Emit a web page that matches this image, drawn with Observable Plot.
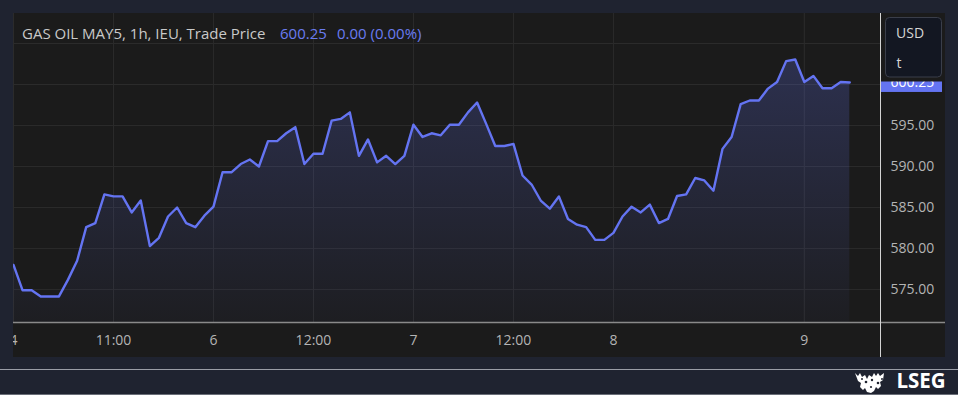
<!DOCTYPE html>
<html>
<head>
<meta charset="utf-8">
<script src="https://cdn.jsdelivr.net/npm/d3@7"></script>
<script src="https://cdn.jsdelivr.net/npm/@observablehq/plot@0.6"></script>
<style>
  html, body { margin: 0; padding: 0; background: #1f2330; }
  #wrap { position: relative; width: 958px; height: 395px; background: #1f2330; overflow: hidden; font-family: "Open Sans", sans-serif; }
  #panel { position: absolute; left: 13px; top: 13px; width: 932px; height: 344px; background: #1b1b1b; overflow: hidden; }
  #panel svg { display: block; }
  .abs { position: absolute; }
</style>
</head>
<body>
<div id="wrap">
  <div id="panel"></div>
  <svg class="abs" id="overlay" width="958" height="395" style="left:0;top:0;pointer-events:none"></svg>
</div>
<script>
// ---- data ----
const prices = [
  578.0, 574.9, 574.9, 574.15, 574.15, 574.15, 576.2, 578.5, 582.6, 583.1,
  586.6, 586.35, 586.35, 584.4, 585.85, 580.3, 581.3, 583.9, 585.0, 583.1,
  582.6, 584.0, 585.1, 589.3, 589.3, 590.3, 590.85, 590.0, 593.1, 593.1,
  594.05, 594.8, 590.3, 591.55, 591.55, 595.6, 595.8, 596.6, 591.3, 593.3,
  590.5, 591.3, 590.3, 591.3, 595.1, 593.6, 594.05, 593.8, 595.1, 595.1,
  596.6, 597.8, 595.2, 592.5, 592.5, 592.75, 588.9, 587.8, 585.85, 584.85,
  586.35, 583.6, 582.9, 582.6, 581.05, 581.05, 581.9, 583.9, 585.1, 584.4,
  585.35, 583.1, 583.6, 586.4, 586.6, 588.6, 588.3, 587.05, 592.15, 593.6,
  597.6, 598.05, 598.05, 599.5, 600.3, 602.85, 603.05, 600.3, 601.05, 599.55,
  599.55, 600.3, 600.25
];
const xTickIndex = [0, 11, 22, 33, 44, 55, 66, 87];
const xTickLabels = ["4", "11:00", "6", "12:00", "7", "12:00", "8", "9"];
const yTicks = [575, 580, 585, 590, 595, 600, 605];
const lastPrice = 600.25;
const title = "GAS OIL MAY5, 1h, IEU, Trade Price";
const change = "0.00 (0.00%)";

const data = prices.map((p, i) => ({i, p}));
const yMin = 570.85, yMax = 608.66;

const lineColor = "#6474f2";
const gridColor = "#2b2b2b";
const labelColor = "#b4b4b4";

function gradientDefs() {
  const ns = "http://www.w3.org/2000/svg";
  const g = document.createElementNS(ns, "defs");
  g.innerHTML = `<linearGradient id="areaGrad" x1="0" y1="0" x2="0" y2="1">
      <stop offset="0" stop-color="#6474f2" stop-opacity="0.24"/>
      <stop offset="1" stop-color="#6474f2" stop-opacity="0.03"/>
    </linearGradient>`;
  return g;
}

const chart = Plot.plot({
  width: 932,
  height: 344,
  marginLeft: 0,
  marginRight: 65,
  marginTop: 0,
  marginBottom: 34,
  style: {background: "transparent", fontFamily: "'Open Sans', sans-serif", fontSize: "14px", color: labelColor},
  x: {domain: [0, 95.38], axis: null},
  y: {domain: [yMin, yMax], axis: null},
  marks: [
    gradientDefs,
    Plot.gridY(yTicks, {stroke: gridColor, strokeOpacity: 1}),
    Plot.gridX([...xTickIndex], {stroke: gridColor, strokeOpacity: 1}),
    Plot.areaY(data, {x: "i", y1: yMin, y2: "p", fill: "url(#areaGrad)", clip: true}),
    Plot.lineY(data, {x: "i", y: "p", stroke: lineColor, strokeWidth: 2.4, clip: true}),
    Plot.axisY(yTicks, {anchor: "right", label: null, tickSize: 0, tickPadding: 10, tickFormat: d => d.toFixed(2), fill: labelColor}),
    Plot.axisX(xTickIndex, {anchor: "bottom", label: null, tickSize: 0, tickPadding: 12, tickFormat: d => xTickLabels[xTickIndex.indexOf(d)], fill: labelColor})
  ]
});
document.getElementById("panel").appendChild(chart);

// ---- overlay decorations ----
const yPage = chart.scale("y").apply(lastPrice) + 13;
const ov = document.getElementById("overlay");
ov.innerHTML = `
  <line x1="13" x2="945" y1="322.5" y2="322.5" stroke="#8a8a8a" stroke-width="1.6"/>
  <line x1="880.5" x2="880.5" y1="13" y2="357" stroke="#d4d4d4" stroke-width="1"/>
  <text x="22" y="38.5" font-family="'Open Sans', sans-serif" font-size="15" fill="#c9c9c9">${title}</text>
  <text x="280" y="38.5" font-family="'Open Sans', sans-serif" font-size="15" fill="#6a7bf0">${lastPrice.toFixed(2)}</text>
  <text x="337" y="38.5" font-family="'Open Sans', sans-serif" font-size="15" fill="#6a7bf0">${change}</text>
  <rect x="881" y="${yPage - 10}" width="61" height="20" fill="${lineColor}"/>
  <text x="890.5" y="${yPage + 5}" font-family="'Open Sans', sans-serif" font-size="14" fill="#ffffff">${lastPrice.toFixed(2)}</text>
  <rect x="881" y="13" width="64" height="68.5" fill="#1b1b1b"/>
  <rect x="885.5" y="17.5" width="56" height="59.5" rx="4" fill="#131722" stroke="#3a3e4a" stroke-width="1"/>
  <text x="896" y="37.7" font-family="'Open Sans', sans-serif" font-size="14" fill="#d6d6d6">USD</text>
  <text x="896.5" y="67.5" font-family="'Open Sans', sans-serif" font-size="14" fill="#d6d6d6">t</text>
  <line x1="0" x2="958" y1="369.5" y2="369.5" stroke="#9a9da6" stroke-width="1"/>
  <line x1="0" x2="958" y1="394.5" y2="394.5" stroke="#6a6e78" stroke-width="1"/>
  <g fill="#ffffff">
    <path d="M855 373 l3 3 l2 -3 l2 4 l3 -2 l2 4 l2 -4 l3 2 l2 -4 l2 3 l2 -3 l2 3 l4 -3 l-1 7 l-3 2 l1 4 l-3 3 l-2 -2 l-2 4 l-3 2 l-4 -1 l-2 -4 l-2 2 l-3 -3 l1 -4 l-3 -2 z"/>
  </g>
  <g fill="#1f2330">
    <circle cx="866" cy="382" r="1.3"/><circle cx="872" cy="380" r="1.2"/><circle cx="878" cy="383" r="1.3"/>
    <circle cx="871" cy="387" r="1.1"/><circle cx="862" cy="379" r="1"/><circle cx="882" cy="379" r="1"/>
  </g>
  <text x="896.5" y="387.5" font-family="'Open Sans', sans-serif" font-weight="700" font-size="20.5" fill="#ffffff">LSEG</text>
`;
</script>
</body>
</html>
